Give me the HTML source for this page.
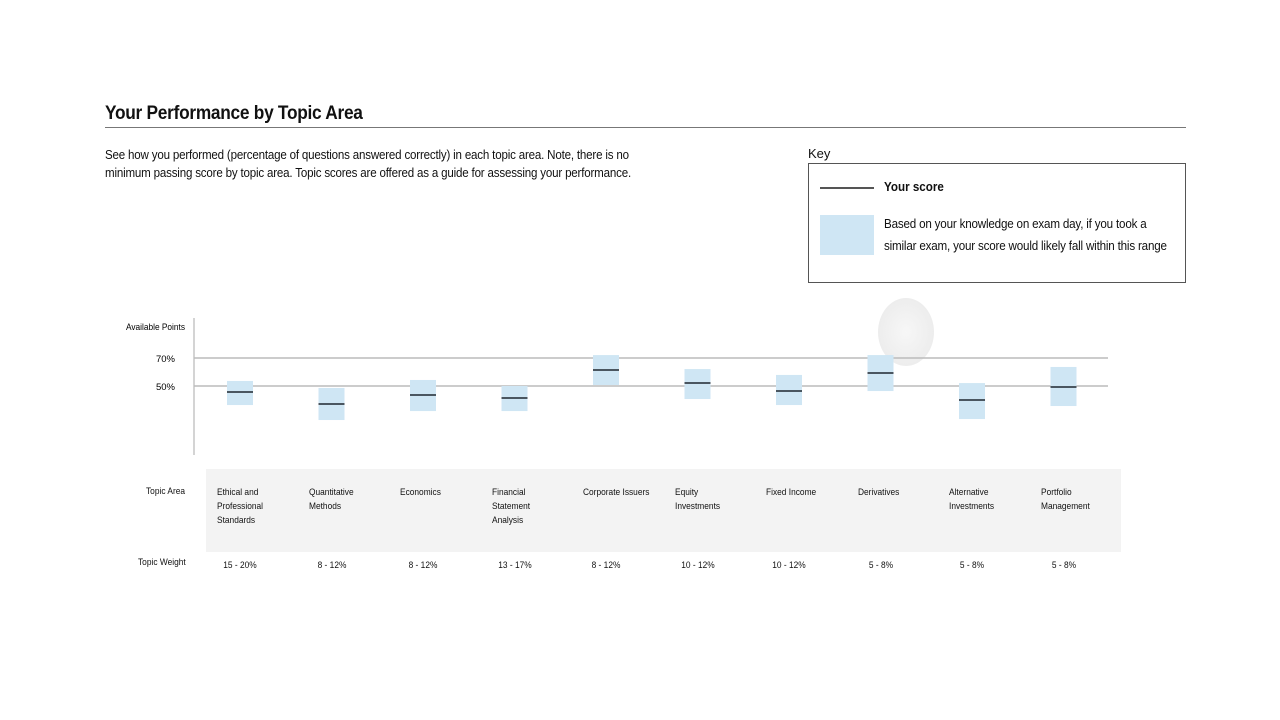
<!DOCTYPE html>
<html><head><meta charset="utf-8"><style>
body{margin:0;width:1280px;height:720px;background:#fff;font-family:"Liberation Sans",sans-serif;color:#111;position:relative;overflow:hidden}
.a{position:absolute}
.n{transform-origin:0 0;white-space:nowrap}
</style></head><body>
<div class="a n" style="left:105px;top:103px;font-size:19px;font-weight:bold;letter-spacing:-0.3px;transform:scaleX(0.91)">Your Performance by Topic Area</div>
<div class="a" style="left:105px;top:127px;width:1081px;height:1px;background:#777"></div>
<div class="a n" style="left:105px;top:146px;font-size:12.5px;line-height:18px;letter-spacing:-0.2px;transform:scaleX(0.925)">See how you performed (percentage of questions answered correctly) in each topic area. Note, there is no<br>minimum passing score by topic area. Topic scores are offered as a guide for assessing your performance.</div>
<div class="a" style="left:808px;top:146px;font-size:13px">Key</div>
<div class="a" style="left:808px;top:163px;width:378px;height:120px;border:1px solid #555;box-sizing:border-box">
 <div class="a" style="left:11px;top:23px;width:54px;height:2px;background:#555"></div>
 <div class="a n" style="left:75px;top:16px;font-size:12.5px;font-weight:bold;transform:scaleX(0.93)">Your score</div>
 <div class="a" style="left:11px;top:51px;width:54px;height:40px;background:#cfe6f4"></div>
 <div class="a n" style="left:75px;top:49px;font-size:12.5px;line-height:22px;letter-spacing:-0.2px;transform:scaleX(0.93)">Based on your knowledge on exam day, if you took a<br>similar exam, your score would likely fall within this range</div>
</div>
<div class="a" style="left:878px;top:298px;width:56px;height:68px;border-radius:50%;background:radial-gradient(#f6f6f6,#e6e6e6);opacity:.9"></div>
<svg class="a" style="left:0;top:0" width="1280" height="720" id="chart"></svg>
<div class="a" style="left:206px;top:469px;width:915px;height:83px;background:#f3f3f3"></div>
<div class="a n" style="left:146px;top:486px;font-size:9.5px;transform:scaleX(0.88)">Topic Area</div>
<div class="a n" style="left:138px;top:557px;font-size:9.5px;transform:scaleX(0.88)">Topic Weight</div>
<div id="labels"></div>
<script>
const categories=["Ethical and Professional Standards","Quantitative Methods","Economics","Financial Statement Analysis","Corporate Issuers","Equity Investments","Fixed Income","Derivatives","Alternative Investments","Portfolio Management"];
const catLines=[["Ethical and","Professional","Standards"],["Quantitative","Methods"],["Economics"],["Financial","Statement","Analysis"],["Corporate Issuers"],["Equity","Investments"],["Fixed Income"],["Derivatives"],["Alternative","Investments"],["Portfolio","Management"]];
const weights=["15 - 20%","8 - 12%","8 - 12%","13 - 17%","8 - 12%","10 - 12%","10 - 12%","5 - 8%","5 - 8%","5 - 8%"];
const scores=[45.7,37.1,43.6,41.4,61.4,52.1,46.4,59.3,40,49.3];
const rangeLow=[36.4,25.7,32.1,32.1,50.7,40.7,36.4,46.4,26.4,35.7];
const rangeHigh=[53.6,48.6,54.3,50,72.1,62.1,57.9,72.1,52.1,63.6];
const refLines=[70,50];
const refLabels=["70%","50%"];
const NS="http://www.w3.org/2000/svg";
const svg=document.getElementById('chart');
const y=v=>456-v*1.4;
const x=i=>240+i*91.5;
function mk(t,a){const e=document.createElementNS(NS,t);for(const k in a)e.setAttribute(k,a[k]);svg.appendChild(e);return e;}
let ax=mk('line',{x1:194,x2:194,y1:318,y2:455,stroke:'#aaa','stroke-width':1});


let ap=mk('text',{x:185,y:330,'font-size':9.5,'text-anchor':'end','font-family':'Liberation Sans',textLength:59,lengthAdjust:'spacingAndGlyphs'});ap.textContent='Available Points';


refLines.forEach((v,i)=>{
 let l=mk('line',{x1:194,x2:1108,y1:y(v),y2:y(v),stroke:'#bbb','stroke-width':1.5});
 
 
 let t=mk('text',{x:175,y:y(v)+4,'font-size':9.5,'text-anchor':'end','font-family':'Liberation Sans'});t.textContent=refLabels[i];
 
 
});
const lab=document.getElementById('labels');
categories.forEach((c,i)=>{
 let r=mk('rect',{x:x(i)-13,y:y(rangeHigh[i]),width:26,height:y(rangeLow[i])-y(rangeHigh[i]),fill:'#cfe6f4'});
 
 
 let s=mk('line',{x1:x(i)-13,x2:x(i)+13,y1:y(scores[i]),y2:y(scores[i]),stroke:'#4a5660','stroke-width':2});
 
 
 let d=document.createElement('div');d.className='a n';
 d.style.cssText='left:'+(x(i)-23)+'px;top:486px;font-size:9.5px;line-height:14px;z-index:2;transform:scaleX(0.88)';
 d.innerHTML=catLines[i].join('<br>');
 
 
 lab.appendChild(d);
 let w=document.createElement('div');w.className='a';
 w.style.cssText='left:'+(x(i)-40)+'px;width:80px;text-align:center;top:560px;font-size:9.5px;transform:scaleX(0.88)';
 w.textContent=weights[i];
 
 
 lab.appendChild(w);
});
</script>
</body></html>
